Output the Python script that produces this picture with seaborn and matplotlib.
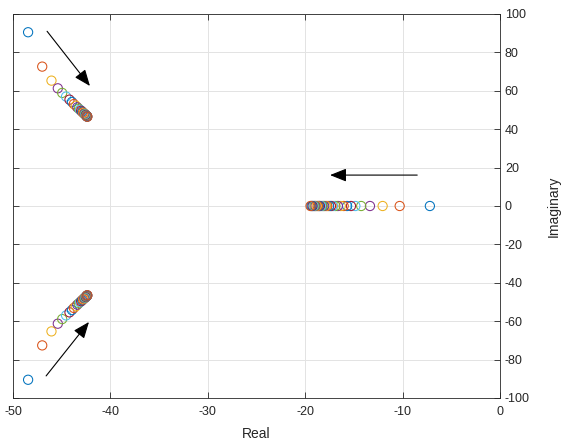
import matplotlib
matplotlib.use("Agg")
import matplotlib.pyplot as plt
import seaborn as sns
import pandas as pd

# Iterations of pole locations
real_pole = [-7.2, -10.3, -12.05, -13.35, -14.25, -14.85, -15.3, -15.7, -16.05, -16.35,
             -16.65, -16.9, -17.15, -17.35, -17.55, -17.75, -17.9, -18.05, -18.2, -18.35,
             -18.5, -18.6, -18.72, -18.84, -18.95, -19.05, -19.15, -19.25, -19.35, -19.45]
cplx_re = [-48.45, -47.0, -46.05, -45.4, -44.95, -44.55, -44.2, -43.95, -43.75, -43.55,
           -43.4, -43.25, -43.12, -43.0, -42.9, -42.82, -42.75, -42.68, -42.62, -42.57,
           -42.52, -42.5, -42.47, -42.45, -42.43, -42.41, -42.4, -42.39, -42.38, -42.37]
cplx_im = [90.5, 72.6, 65.3, 61.3, 58.9, 57.0, 55.4, 54.2, 53.1, 52.2,
           51.4, 50.7, 50.1, 49.6, 49.1, 48.7, 48.35, 48.05, 47.8, 47.6,
           47.4, 47.2, 47.05, 46.95, 46.85, 46.75, 46.68, 46.6, 46.55, 46.5]

colors = ["#0072BD", "#D95319", "#EDB120", "#7E2F8E", "#77AC30", "#4DBEEE", "#A2142F"]

xticks = [-50, -40, -30, -20, -10, 0]
yticks = [-100, -80, -60, -40, -20, 0, 20, 40, 60, 80, 100]

sns.set_style("white")
plt.rcParams["font.family"] = ["Liberation Sans", "DejaVu Sans"]
plt.rcParams["axes.unicode_minus"] = False

fig = plt.figure(figsize=(5.62, 4.46), dpi=100)
ax = fig.add_axes([13 / 562, 1 - 398 / 446, 487 / 562, 384 / 446])

for i in range(len(real_pole)):
    df = pd.DataFrame({
        "re": [real_pole[i], cplx_re[i], cplx_re[i]],
        "im": [0.0, cplx_im[i], -cplx_im[i]],
    })
    sns.scatterplot(data=df, x="re", y="im", ax=ax, color=colors[i % 7], s=44,
                    linewidth=0.75, zorder=3, legend=False)

for coll in ax.collections:
    fc = coll.get_facecolor()
    coll.set_edgecolor(fc)
    coll.set_facecolor("none")

ax.set_xlim(-50, 0)
ax.set_ylim(-100, 100)
ax.set_xticks(xticks)
ax.set_yticks(yticks)
ax.grid(True, color="#e3e3e3", linewidth=0.7)
ax.set_axisbelow(True)

ax.yaxis.tick_right()
ax.yaxis.set_label_position("right")
ax.tick_params(axis="both", direction="in", length=4, width=0.6, color="#262626",
               labelsize=9, labelcolor="#262626", top=True, right=True, left=True, bottom=True,
               labelleft=False, labelright=True)
ax.tick_params(axis="x", pad=6)
for s in ax.spines.values():
    s.set_color("#262626")
    s.set_linewidth(0.6)
    s.set_visible(True)

ax.set_xlabel("Real", fontsize=10, color="#262626", labelpad=6)
ax.set_ylabel("Imaginary", fontsize=10, color="#262626", labelpad=12)

arrow_kw = dict(arrowstyle="-|>,head_length=1.0,head_width=0.4", color="black", lw=0.8,
                shrinkA=0, shrinkB=0)
ax.annotate("", xy=(-42.1, 62.5), xytext=(-46.5, 91), arrowprops=arrow_kw)
ax.annotate("", xy=(-17.45, 16.1), xytext=(-8.5, 16.1), arrowprops=arrow_kw)
ax.annotate("", xy=(-42.2, -60.4), xytext=(-46.6, -88.5), arrowprops=arrow_kw)

fig.savefig("out.png", dpi=100)
